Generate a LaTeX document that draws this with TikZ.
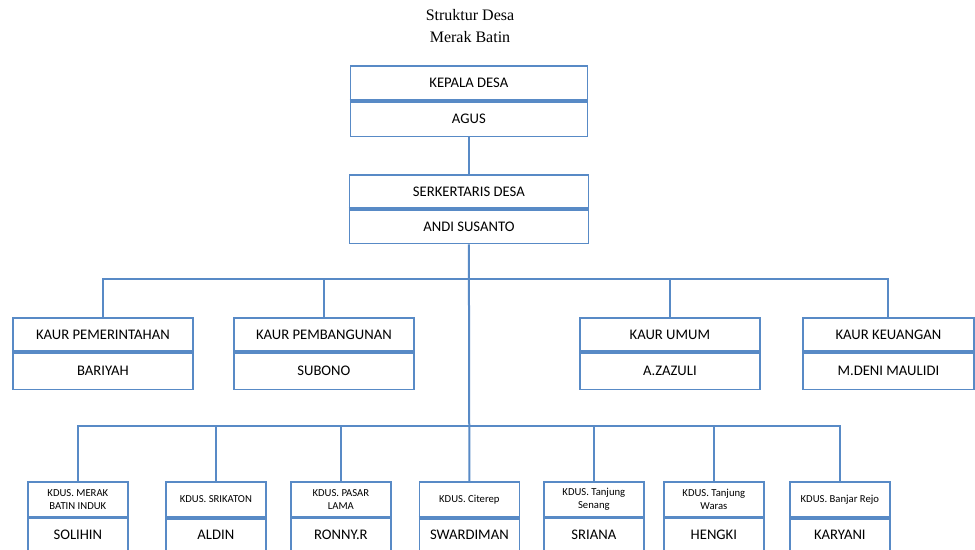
\documentclass[tikz,border=0pt]{standalone}
\usepackage{fontspec}
\setmainfont{Carlito}
\newfontfamily\judulfont{Liberation Serif}
\definecolor{biru}{RGB}{88,138,198}

\begin{document}
\begin{tikzpicture}[x=0.75pt,y=-0.75pt,
  kotak/.style={draw=biru,line width=1.3pt,fill=white,inner sep=0pt,anchor=north west,
    font=\fontsize{11}{13}\selectfont,align=center},
  garis/.style={draw=biru,line width=1.5pt},
  tebal/.style={draw=biru,line width=3pt},
  tipis/.style={draw=biru,line width=1.3pt}]
  \useasboundingbox (0,0) rectangle (975,550);
  \node[font=\judulfont\fontsize{12}{16}\selectfont,align=center] (judul) at (470,26) {Struktur Desa\\Merak Batin};

  \node[kotak,minimum width=177.75pt,minimum height=25.5pt] (kades) at (349.5,65) {KEPALA DESA};
  \node[kotak,anchor=north,minimum width=177.75pt,minimum height=26.25pt] (nkades) at (kades.south) {AGUS};
  \draw[tebal] (kades.south west) -- (kades.south east);

  \node[kotak,minimum width=179.25pt,minimum height=24.75pt] (sekdes) at (348.5,174) {SERKERTARIS DESA};
  \node[kotak,anchor=north,minimum width=179.25pt,minimum height=25.5pt] (nsekdes) at (sekdes.south) {ANDI SUSANTO};
  \draw[tebal] (sekdes.south west) -- (sekdes.south east);

  \foreach \x/\jab/\nama/\w [count=\i] in {12/KAUR PEMERINTAHAN/BARIYAH/135pt,
      233/KAUR PEMBANGUNAN/SUBONO/135pt, 579/KAUR UMUM/A.ZAZULI/135pt,
      802/KAUR KEUANGAN/M.DENI MAULIDI/128.25pt}
  {
    \node[kotak,minimum width=\w,minimum height=24.75pt] (kaur\i) at (\x,317) {\jab};
    \node[kotak,anchor=north,minimum width=\w,minimum height=27.75pt] (nkaur\i) at (kaur\i.south) {\nama};
    \draw[tebal] (kaur\i.south west) -- (kaur\i.south east);
  }

  \foreach \x/\jab/\nama/\s [count=\i] in {27/KDUS. MERAK\\BATIN INDUK/SOLIHIN/tipis,
      165/KDUS. SRIKATON/ALDIN/tebal, 290/KDUS. PASAR\\LAMA/RONNY.R/tipis,
      418.5/KDUS. Citerep/SWARDIMAN/tebal, 543/KDUS. Tanjung\\Senang/SRIANA/tipis,
      663/KDUS. Tanjung\\Waras/HENGKI/tipis, 789/KDUS. Banjar Rejo/KARYANI/tebal}
  {
    \node[kotak,font=\fontsize{8}{9.5}\selectfont,minimum width=75pt,minimum height=26.25pt] (kdus\i) at (\x,481) {\jab};
    \node[kotak,anchor=north,minimum width=75pt,minimum height=24.75pt] (nkdus\i) at (kdus\i.south) {\nama};
    \draw[\s] (kdus\i.south west) -- (kdus\i.south east);
  }

  \coordinate (busA) at (468.5,279);
  \coordinate (busB) at (468.5,426);
  \draw[garis] (nkades.south) -- (sekdes.north);
  \draw[garis] (nsekdes.south) -- (kdus4.north);
  \foreach \i in {1,...,4} \draw[garis] (kaur\i.north) |- (busA);
  \foreach \i in {1,2,3,5,6,7} \draw[garis] (kdus\i.north) |- (busB);
\end{tikzpicture}
\end{document}
